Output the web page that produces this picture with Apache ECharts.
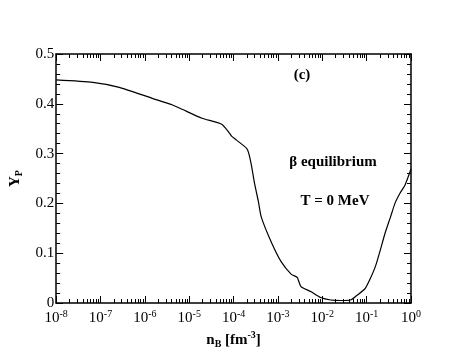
<!DOCTYPE html>
<html>
<head>
<meta charset="utf-8">
<script src="https://cdn.jsdelivr.net/npm/echarts@6/dist/echarts.min.js"></script>
<style>
  html, body { margin: 0; padding: 0; background: #fff; }
  #chart { width: 463px; height: 358px; }
</style>
</head>
<body>
<div id="chart"></div>
<script>
// baryon density n_B [fm^-3]
const nB = [
    1e-8, 6.7e-8, 2.65e-7, 1.47e-6, 4.1e-6, 6.9e-6, 1.93e-5, 5.4e-5, 8.1e-5, 9.0e-5,
    1.17e-4, 1.95e-4, 2.16e-4, 2.52e-4, 2.97e-4, 3.62e-4, 4.2e-4, 7.1e-4, 1.18e-3, 1.98e-3,
    2.56e-3, 2.75e-3, 3.31e-3, 5.5e-3, 9.2e-3, 1.55e-2, 2.6e-2, 4.3e-2, 5.6e-2, 9.4e-2,
    0.157, 0.262, 0.34, 0.439, 0.568, 0.734, 1.0
]
// proton fraction Y_P
const yp = [
    0.448, 0.443, 0.433, 0.411, 0.398, 0.389, 0.371, 0.359, 0.341, 0.335,
    0.327, 0.311, 0.303, 0.277, 0.240, 0.204, 0.173, 0.122, 0.083, 0.058,
    0.053, 0.051, 0.033, 0.023, 0.011, 0.006, 0.005, 0.006, 0.013, 0.030,
    0.073, 0.141, 0.171, 0.201, 0.221, 0.237, 0.269
]
const xMajor = [1e-8, 1e-7, 1e-6, 1e-5, 1e-4, 1e-3, 1e-2, 1e-1, 1]
const yTicks = [0, 0.1, 0.2, 0.3, 0.4, 0.5]

const FONT = 'Liberation Serif'

// minor log ticks 2..9 in every decade
const xMinor = []
for (let e = -8; e < 0; e++) {
    for (let k = 2; k <= 9; k++) {
        xMinor.push(k * Math.pow(10, e))
    }
}

function xAxisBase(pos) {
    return {
        type: 'log',
        logBase: 10,
        min: 1e-8,
        max: 1,
        position: pos,
        splitLine: { show: false },
        axisLine: { show: true, lineStyle: { color: '#000', width: 1.5 } },
    }
}

function draw() {
    const chart = echarts.init(document.getElementById('chart'))

    const data = []
    for (let i = 0; i < nB.length; i++) {
        data.push([nB[i], yp[i]])
    }

    const option = {
        animation: false,
        backgroundColor: '#fff',
        grid: { left: 53, right: 52, top: 54, bottom: 55 },
        xAxis: [
            Object.assign(xAxisBase('bottom'), {
                name: '{b|n}{sub|B}{b| [fm}{sup|-3}{b|]}',
                nameLocation: 'middle',
                nameGap: 24,
                nameTextStyle: {
                    rich: {
                        b: { fontFamily: FONT, fontWeight: 'bold', fontSize: 15, color: '#000' },
                        sub: { fontFamily: FONT, fontWeight: 'bold', fontSize: 10, color: '#000', padding: [8, 0, 0, 0] },
                        sup: { fontFamily: FONT, fontWeight: 'bold', fontSize: 10, color: '#000', padding: [0, 0, 9, 0] },
                    },
                },
                axisTick: { show: true, inside: true, length: 7, customValues: xMajor, lineStyle: { color: '#000' } },
                axisLabel: {
                    customValues: xMajor,
                    margin: 6,
                    formatter: function (v) {
                        const e = Math.round(Math.log10(v))
                        return '{b|10}{sup|' + e + '}'
                    },
                    rich: {
                        b: { fontFamily: FONT, fontSize: 15, color: '#000' },
                        sup: { fontFamily: FONT, fontSize: 10, color: '#000', padding: [0, 0, 9, 0] },
                    },
                },
            }),
            Object.assign(xAxisBase('bottom'), {
                axisLine: { show: false },
                axisTick: { show: true, inside: true, length: 4, customValues: xMinor, lineStyle: { color: '#000' } },
                axisLabel: { show: false },
            }),
            Object.assign(xAxisBase('top'), {
                axisTick: { show: true, inside: true, length: 7, customValues: xMajor, lineStyle: { color: '#000' } },
                axisLabel: { show: false },
            }),
            Object.assign(xAxisBase('top'), {
                axisLine: { show: false },
                axisTick: { show: true, inside: true, length: 4, customValues: xMinor, lineStyle: { color: '#000' } },
                axisLabel: { show: false },
            }),
        ],
        yAxis: [
            {
                type: 'value',
                min: 0,
                max: 0.5,
                interval: 0.1,
                position: 'left',
                name: '{b|Y}{sub|P}',
                nameLocation: 'middle',
                nameGap: 27,
                nameTextStyle: {
                    rich: {
                        b: { fontFamily: FONT, fontWeight: 'bold', fontSize: 15, color: '#000' },
                        sub: { fontFamily: FONT, fontWeight: 'bold', fontSize: 10, color: '#000', padding: [8, 0, 0, 0] },
                    },
                },
                splitLine: { show: false },
                axisLine: { show: true, lineStyle: { color: '#000', width: 1.5 } },
                axisTick: { inside: true, length: 7, lineStyle: { color: '#000' } },
                minorTick: { show: true, splitNumber: 5, length: 4, lineStyle: { color: '#000' } },
                axisLabel: {
                    margin: 2,
                    fontFamily: FONT,
                    fontSize: 15,
                    color: '#000',
                    customValues: yTicks,
                },
            },
            {
                type: 'value',
                min: 0,
                max: 0.5,
                interval: 0.1,
                position: 'right',
                splitLine: { show: false },
                axisLine: { show: true, lineStyle: { color: '#000', width: 1.5 } },
                axisTick: { inside: true, length: 7, lineStyle: { color: '#000' } },
                minorTick: { show: true, splitNumber: 5, length: 4, lineStyle: { color: '#000' } },
                axisLabel: { show: false },
            },
        ],
        graphic: [
            {
                type: 'text', x: 302, y: 75,
                style: { text: '(c)', font: 'bold 15px "Liberation Serif"', fill: '#000', align: 'center', verticalAlign: 'middle' },
            },
            {
                type: 'text', x: 333, y: 162,
                style: { text: 'β equilibrium', font: 'bold 15px "Liberation Serif"', fill: '#000', align: 'center', verticalAlign: 'middle' },
            },
            {
                type: 'text', x: 335, y: 201,
                style: { text: 'T = 0 MeV', font: 'bold 15px "Liberation Serif"', fill: '#000', align: 'center', verticalAlign: 'middle' },
            },
        ],
        series: [
            {
                type: 'line',
                xAxisIndex: 0,
                yAxisIndex: 0,
                data: data,
                showSymbol: false,
                smooth: 0.2,
                lineStyle: { color: '#000', width: 1.2 },
            },
        ],
    }

    chart.setOption(option)
}

draw()
</script>
</body>
</html>
